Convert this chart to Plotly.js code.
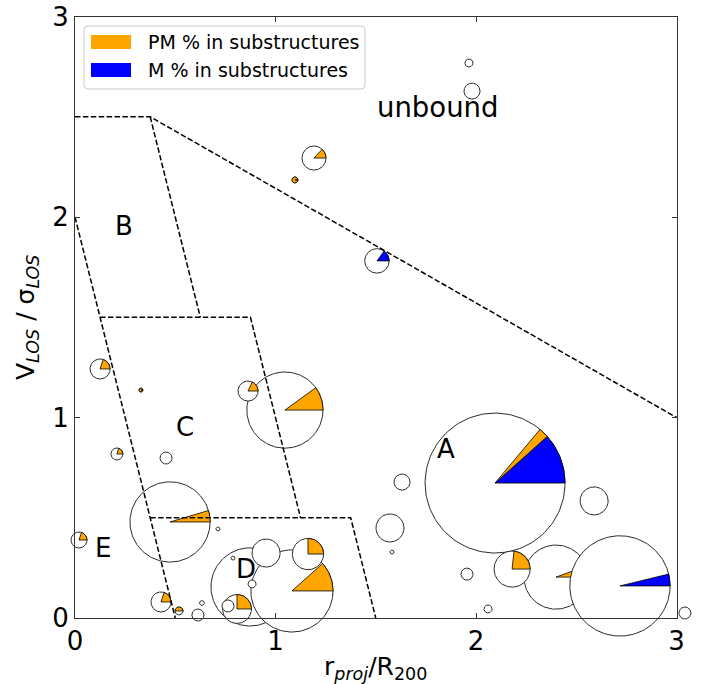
<!DOCTYPE html>
<html>
<head>
<meta charset="utf-8">
<script src="https://cdn.plot.ly/plotly-3.0.1.min.js"></script>
<style>html,body{margin:0;padding:0;background:#fff;}</style>
</head>
<body>
<div id="chart" style="width:704px;height:684px;"></div>
<script>
// ---------------- data (r_proj/R200 , V_LOS/sigma_LOS) ----------------
// pie-marker groups, listed in drawing order
const groupX   = [2.095, 1.047, 0.474, 0.873, 1.082, 2.399, 2.718,
                  1.965, 1.980, 1.192, 1.097, 1.506, 0.125, 0.329, 0.863,
                  0.209, 0.454, 0.713, 0.020, 0.953, 1.162, 0.788, 0.883,
                  0.808, 0.763, 0.429, 0.519, 0.633, 0.613, 1.631, 1.571,
                  1.581, 1.955, 2.060, 2.589, 2.180, 3.042];
const groupY   = [0.673, 1.037, 0.479, 0.155, 0.135, 0.204, 0.160,
                  2.768, 2.628, 2.294, 2.185, 1.781, 1.242, 1.137, 1.132,
                  0.818, 0.798, 0.444, 0.389, 0.324, 0.319, 0.299, 0.170,
                  0.045, 0.060, 0.080, 0.035, 0.075, 0.015, 0.678, 0.449,
                  0.329, 0.219, 0.045, 0.584, 0.244, 0.025];
const groupSize = [0.349, 0.190, 0.200, 0.195, 0.205, 0.160, 0.250,
                  0.020, 0.040, 0.060, 0.015, 0.061, 0.050, 0.010, 0.050,
                  0.030, 0.030, 0.010, 0.040, 0.070, 0.078, 0.010, 0.020,
                  0.072, 0.030, 0.050, 0.020, 0.012, 0.030, 0.040, 0.070,
                  0.010, 0.030, 0.020, 0.070, 0.090, 0.030];
const pmFrac   = [0.023, 0.100, 0.046, 0, 0.116, 0.055, 0,
                  0, 0, 0.130, 1.0, 0, 0.200, 1.0, 0.180,
                  0.200, 0, 0, 0.200, 0, 0.250, 0, 0,
                  0.250, 0, 0.200, 0.500, 0, 0, 0, 0,
                  0, 0, 0, 0, 0.233, 0];
const mFrac    = [0.116, 0, 0, 0, 0, 0, 0.038,
                  0, 0, 0, 0, 0.150, 0, 0, 0,
                  0, 0, 0, 0, 0, 0, 0, 0,
                  0, 0, 0, 0, 0, 0, 0, 0,
                  0, 0, 0, 0, 0, 0];

// dashed region boundaries
const boundaryX = [[0, 0.375, 3], [0.375, 0.625], [0, 0.5], [0.125, 0.875, 1.125], [0.375, 1.375, 1.5]];
const boundaryY = [[2.5, 2.5, 1], [2.5, 1.5], [2, 0], [1.5, 1.5, 0.5], [0.5, 0.5, 0]];

// region labels
const regionText = ['unbound', 'A', 'B', 'C', 'D', 'E'];
const regionX    = [1.81, 1.850, 0.244, 0.549, 0.853, 0.141];
const regionY    = [2.549, 0.843, 1.955, 0.953, 0.246, 0.349];

const tickVals = [0, 1, 2, 3];
const tickText = ['0', '1', '2', '3'];
const legendLabels = ['PM % in substructures', 'M % in substructures'];
const legendColors = ['#FFA500', '#0000FF'];
const xTitle = 'r<sub><i>proj</i></sub>/R<sub>200</sub>';
const yTitle = 'V<sub><i>LOS</i></sub> / σ<sub><i>LOS</i></sub>';

// ---------------- geometry / layout constants ----------------
const W = 704, H = 684;
const LEFT = 75, BOTTOM = 618, SCALE = 200.5;   // px per data unit
const RIGHT = LEFT + 3 * SCALE, TOP = BOTTOM - 3 * SCALE;
const FONT = 'DejaVu Sans, sans-serif';
const PM_COLOR = legendColors[0], M_COLOR = legendColors[1];

function circlePts(cx, cy, r) {
  const xs = [], ys = [];
  const n = 160;
  for (let k = 0; k <= n; k++) {
    const a = 2 * Math.PI * k / n;
    xs.push(cx + r * Math.cos(a)); ys.push(cy + r * Math.sin(a));
  }
  return [xs, ys];
}
function wedgePts(cx, cy, r, f0, f1) {
  const a0 = 2 * Math.PI * f0, a1 = 2 * Math.PI * f1;
  const n = Math.max(4, Math.ceil((f1 - f0) * 160));
  const xs = [cx], ys = [cy];
  for (let k = 0; k <= n; k++) {
    const a = a0 + (a1 - a0) * k / n;
    xs.push(cx + r * Math.cos(a)); ys.push(cy + r * Math.sin(a));
  }
  xs.push(cx); ys.push(cy);
  return [xs, ys];
}

const traces = [];
for (let i = 0; i < groupX.length; i++) {
  const [cx, cy] = circlePts(groupX[i], groupY[i], groupSize[i]);
  traces.push({type: 'scatter', mode: 'lines', x: cx, y: cy, fill: 'toself',
    fillcolor: '#ffffff', line: {color: '#2a2a2a', width: 1},
    hoverinfo: 'skip', showlegend: false, xaxis: 'x', yaxis: 'y'});
  if (mFrac[i] > 0) {
    const [wx, wy] = wedgePts(groupX[i], groupY[i], groupSize[i], 0, mFrac[i]);
    traces.push({type: 'scatter', mode: 'lines', x: wx, y: wy, fill: 'toself',
      fillcolor: M_COLOR, line: {color: '#000', width: 0.8},
      hoverinfo: 'skip', showlegend: false, xaxis: 'x', yaxis: 'y'});
  }
  if (pmFrac[i] > 0) {
    const [wx, wy] = wedgePts(groupX[i], groupY[i], groupSize[i], mFrac[i], mFrac[i] + pmFrac[i]);
    traces.push({type: 'scatter', mode: 'lines', x: wx, y: wy, fill: 'toself',
      fillcolor: PM_COLOR, line: {color: '#000', width: 0.8},
      hoverinfo: 'skip', showlegend: false, xaxis: 'x', yaxis: 'y'});
  }
}
for (let j = 0; j < boundaryX.length; j++) {
  traces.push({type: 'scatter', mode: 'lines', x: boundaryX[j], y: boundaryY[j],
    line: {color: '#000', width: 1.5, dash: '5.5px,2.4px'},
    hoverinfo: 'skip', showlegend: false, xaxis: 'x', yaxis: 'y'});
}
// empty trace to materialise the framed axes
traces.push({type: 'scatter', mode: 'markers', x: [], y: [], xaxis: 'x2', yaxis: 'y2',
  showlegend: false, hoverinfo: 'skip'});

// legend drawn as shapes + text (pixel placement converted to paper units)
function px(x) { return x / W; }
function py(y) { return 1 - y / H; }
function roundRect(x0, y0, x1, y1, r) {
  const rx = r / W, ry = r / H;
  const X0 = px(x0), X1 = px(x1), Y0 = py(y0), Y1 = py(y1);
  return `M ${X0 + rx},${Y0} L ${X1 - rx},${Y0} Q ${X1},${Y0} ${X1},${Y0 - ry} ` +
         `L ${X1},${Y1 + ry} Q ${X1},${Y1} ${X1 - rx},${Y1} L ${X0 + rx},${Y1} ` +
         `Q ${X0},${Y1} ${X0},${Y1 + ry} L ${X0},${Y0 - ry} Q ${X0},${Y0} ${X0 + rx},${Y0} Z`;
}
const shapes = [
  {type: 'path', xref: 'paper', yref: 'paper', path: roundRect(84, 26, 365, 89, 4),
   fillcolor: 'rgba(255,255,255,0.9)', line: {color: '#cccccc', width: 1}, layer: 'above'}
];
const annotations = [];
const legendRows = [42, 70];
for (let k = 0; k < legendLabels.length; k++) {
  const yc = legendRows[k];
  shapes.push({type: 'rect', xref: 'paper', yref: 'paper',
    x0: px(91), x1: px(131), y0: py(yc + 7), y1: py(yc - 7),
    fillcolor: legendColors[k], line: {color: legendColors[k], width: 0}, layer: 'above'});
  annotations.push({xref: 'paper', yref: 'paper', x: px(146), y: py(yc), xanchor: 'left',
    yanchor: 'middle', text: legendLabels[k], showarrow: false,
    font: {family: FONT, size: 19, color: '#000'}});
}
for (let k = 0; k < regionText.length; k++) {
  annotations.push({xref: 'x', yref: 'y', x: regionX[k], y: regionY[k], text: regionText[k],
    showarrow: false, xanchor: 'center', yanchor: 'middle',
    font: {family: FONT, size: k === 0 ? 27.5 : 26, color: '#000'}});
}
// x-axis title placed as text just under the tick labels
annotations.push({xref: 'paper', yref: 'paper', x: px((LEFT + RIGHT) / 2), y: py(668),
  xanchor: 'center', yanchor: 'middle', text: xTitle, showarrow: false,
  font: {family: FONT, size: 25, color: '#000'}});

const axisCommon = {
  range: [0, 3], tickvals: tickVals, ticktext: tickText, ticks: 'inside', ticklen: 5,
  tickwidth: 1, tickcolor: '#333', showline: true, linecolor: '#333', linewidth: 1,
  mirror: 'allticks', showgrid: false, zeroline: false, fixedrange: true,
  tickfont: {family: FONT, size: 26, color: '#000'}
};

const layout = {
  width: W, height: H,
  margin: {l: 0, r: 0, t: 0, b: 0, pad: 0},
  paper_bgcolor: '#ffffff', plot_bgcolor: 'rgba(0,0,0,0)',
  showlegend: false,
  font: {family: FONT, color: '#000'},
  xaxis: {domain: [0, 1], range: [-LEFT / SCALE, (W - LEFT) / SCALE], visible: false, fixedrange: true},
  yaxis: {domain: [0, 1], range: [-(H - BOTTOM) / SCALE, BOTTOM / SCALE], visible: false, fixedrange: true},
  xaxis2: Object.assign({}, axisCommon, {domain: [LEFT / W, RIGHT / W], anchor: 'y2'}),
  yaxis2: Object.assign({}, axisCommon, {domain: [(H - BOTTOM) / H, (H - TOP) / H], anchor: 'x2',
    title: {text: yTitle, font: {family: FONT, size: 25, color: '#000'}, standoff: 10}}),
  shapes: shapes,
  annotations: annotations
};

Plotly.newPlot('chart', traces, layout, {displayModeBar: false, staticPlot: true});
</script>
</body>
</html>
